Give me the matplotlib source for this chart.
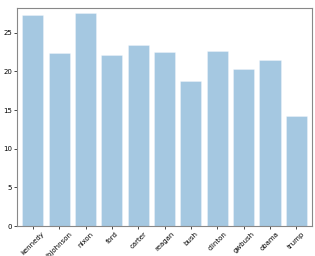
import matplotlib
matplotlib.use("Agg")
import matplotlib.pyplot as plt

presidents = ['kennedy', 'lbjohnson', 'nixon', 'ford', 'carter', 'reagan',
              'bush', 'clinton', 'gwbush', 'obama', 'trump']
avg_words = [27.3, 22.4, 27.6, 22.1, 23.4, 22.5, 18.8, 22.6, 20.3, 21.5, 14.2]

fig = plt.figure(figsize=(3.15, 2.56), dpi=100)
ax = fig.add_axes([0.054, 0.117, 0.937, 0.852])

x = range(len(presidents))
ax.bar(x, avg_words, width=0.8, color='tab:blue', alpha=0.4, edgecolor='white', linewidth=0.5)
ax.set_xticks(list(x))
ax.set_xticklabels(presidents, rotation=45, fontsize=5)
ax.set_xlim(-0.6, len(presidents) - 0.4)
ax.set_ylim(0, 28.2)
ax.tick_params(axis='y', labelsize=5)
ax.tick_params(length=2, width=0.5, pad=1.5)
ax.set_ylabel('words', fontsize=5, labelpad=2)
for s in ax.spines.values():
    s.set_color('#888888')
    s.set_linewidth(0.8)

fig.savefig('out.png', dpi=100)
